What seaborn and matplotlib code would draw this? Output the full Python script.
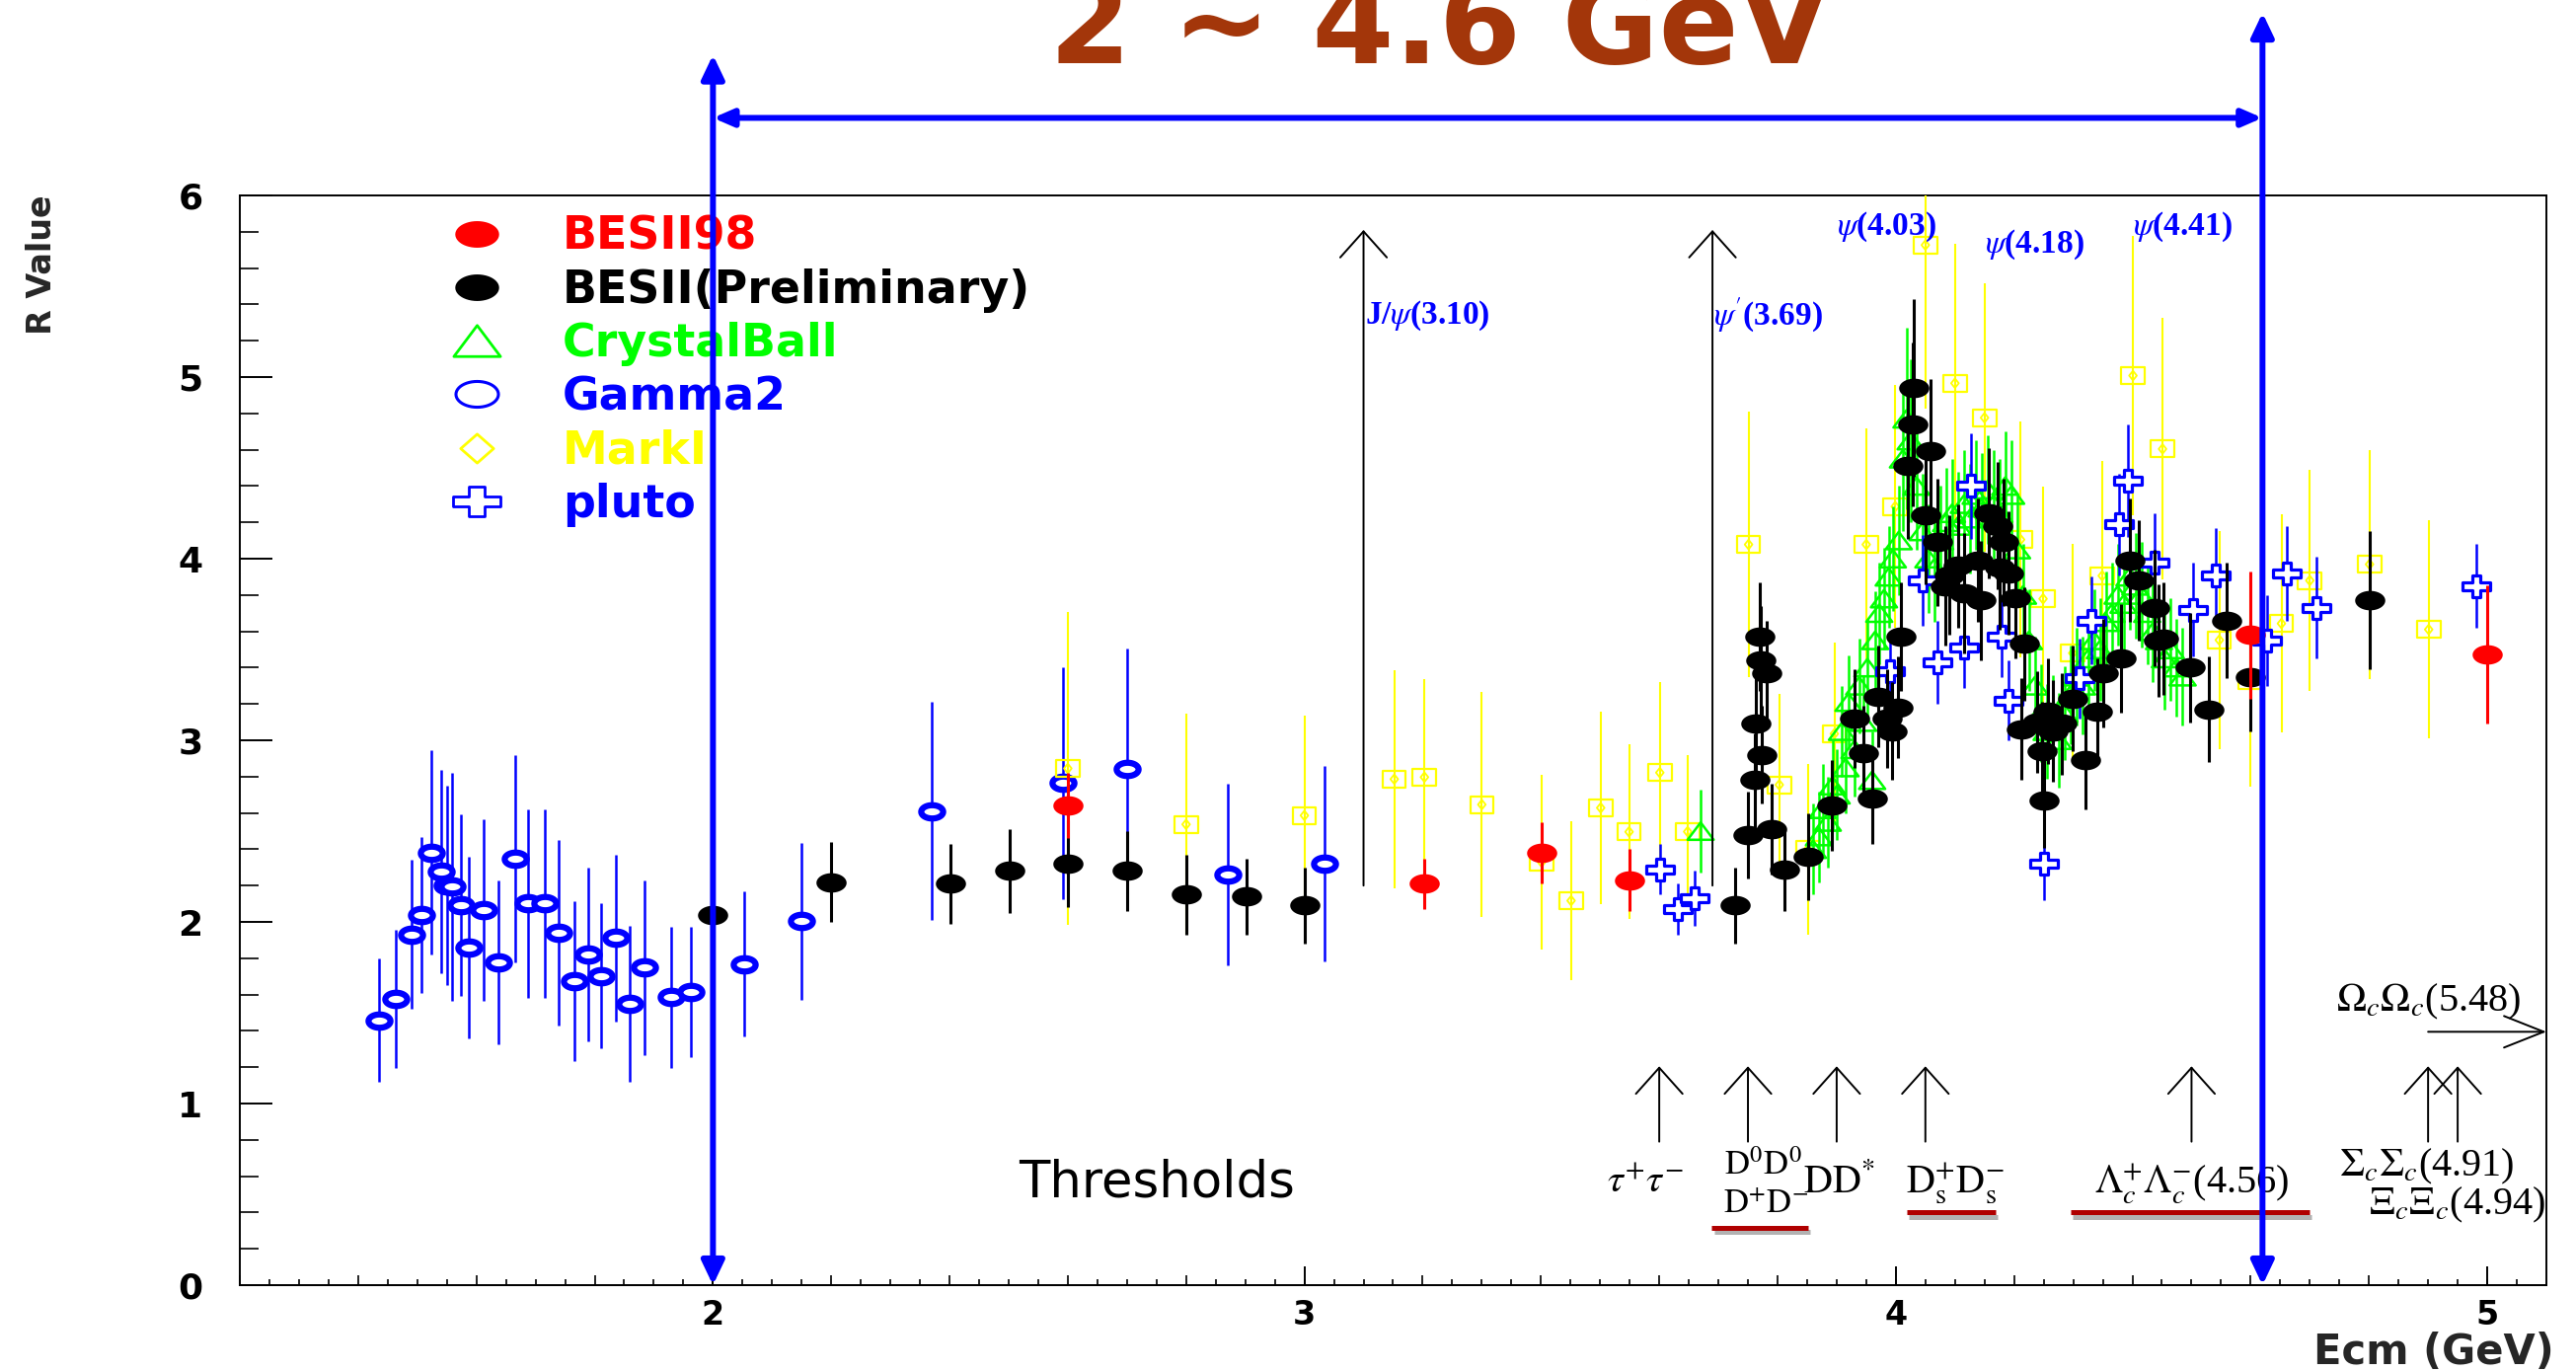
import numpy as np
import pandas as pd
import matplotlib
matplotlib.use("Agg")
import matplotlib.pyplot as plt
import seaborn as sns
from matplotlib.path import Path
from matplotlib.lines import Line2D
from matplotlib.patches import ArrowStyle
from matplotlib.ticker import MultipleLocator
import matplotlib.patheffects as pe

# ---------------- data ----------------
besii98_x = [2.600, 3.203, 3.401, 3.549, 4.599, 5.000]
besii98_y = [2.64, 2.21, 2.38, 2.23, 3.58, 3.475]
besii98_err = [0.18, 0.14, 0.17, 0.17, 0.35, 0.38]

besii_x = [2.000, 2.200, 2.401, 2.502, 2.600, 2.701, 2.800, 2.902, 3.001,
           3.729, 3.750, 3.762, 3.763, 3.770, 3.772, 3.774, 3.781, 3.790, 3.811,
           3.852, 3.891, 3.930, 3.946, 3.960, 3.971, 3.986, 3.993, 4.004, 4.009,
           4.020, 4.028, 4.030, 4.051, 4.059, 4.070, 4.083, 4.090, 4.105, 4.116,
           4.139, 4.143, 4.157, 4.172, 4.176, 4.183, 4.190, 4.202, 4.213, 4.217,
           4.239, 4.247, 4.251, 4.258, 4.265, 4.281, 4.299, 4.321, 4.340, 4.351,
           4.381, 4.396, 4.410, 4.437, 4.444, 4.452, 4.497, 4.530, 4.559, 4.600,
           4.801]
besii_y = [2.04, 2.22, 2.21, 2.28, 2.32, 2.28, 2.15, 2.14, 2.09,
           2.09, 2.48, 2.78, 3.09, 3.57, 3.44, 2.92, 3.37, 2.51, 2.29,
           2.36, 2.64, 3.12, 2.93, 2.68, 3.24, 3.12, 3.05, 3.18, 3.57,
           4.51, 4.74, 4.94, 4.24, 4.59, 4.09, 3.85, 3.91, 3.96, 3.81,
           3.99, 3.77, 4.25, 4.18, 3.95, 4.09, 3.92, 3.78, 3.06, 3.53,
           3.10, 2.94, 2.67, 3.16, 3.05, 3.09, 3.23, 2.89, 3.16, 3.37,
           3.45, 3.99, 3.88, 3.73, 3.55, 3.56, 3.40, 3.17, 3.66, 3.35,
           3.77]
besii_err = [0.20, 0.22, 0.22, 0.23, 0.24, 0.22, 0.22, 0.21, 0.21,
             0.21, 0.24, 0.26, 0.28, 0.30, 0.30, 0.27, 0.29, 0.25, 0.23,
             0.24, 0.25, 0.27, 0.26, 0.25, 0.28, 0.27, 0.27, 0.28, 0.30,
             0.40, 0.45, 0.49, 0.38, 0.40, 0.35, 0.33, 0.33, 0.34, 0.33,
             0.34, 0.33, 0.36, 0.35, 0.34, 0.35, 0.34, 0.33, 0.28, 0.31,
             0.28, 0.27, 0.26, 0.29, 0.28, 0.28, 0.29, 0.27, 0.29, 0.30,
             0.30, 0.34, 0.33, 0.32, 0.31, 0.31, 0.30, 0.29, 0.32, 0.30,
             0.38]

crystal_x = [3.670, 3.860, 3.870, 3.876, 3.885, 3.893, 3.900, 3.909, 3.915, 3.920,
             3.930, 3.938, 3.945, 3.952, 3.960, 3.965, 3.972, 3.980, 3.988, 3.995,
             4.005, 4.012, 4.018, 4.025, 4.035, 4.045, 4.055, 4.065, 4.075, 4.085,
             4.095, 4.105, 4.115, 4.125, 4.135, 4.145, 4.155, 4.165, 4.175, 4.185,
             4.195, 4.205, 4.215, 4.225, 4.235, 4.245, 4.255, 4.265, 4.275, 4.285,
             4.295, 4.305, 4.315, 4.325, 4.335, 4.345, 4.355, 4.365, 4.375, 4.385,
             4.395, 4.405, 4.415, 4.425, 4.435, 4.445, 4.455, 4.465, 4.475, 4.485]
crystal_y = [2.50, 2.40, 2.47, 2.62, 2.55, 2.75, 2.70, 3.05, 2.85, 3.21,
             2.95, 3.30, 3.10, 3.40, 2.78, 3.55, 3.70, 3.78, 3.90, 4.00,
             4.10, 4.55, 4.77, 4.65, 4.40, 4.15, 4.00, 3.95, 4.10, 4.20,
             4.25, 4.18, 4.30, 4.22, 4.35, 4.28, 4.38, 4.30, 4.25, 4.40,
             4.35, 4.05, 3.80, 3.55, 3.30, 3.15, 3.05, 3.10, 3.00, 3.15,
             3.25, 3.35, 3.30, 3.45, 3.55, 3.50, 3.65, 3.70, 3.80, 3.75,
             3.90, 3.85, 3.80, 3.70, 3.60, 3.55, 3.45, 3.50, 3.40, 3.35]
crystal_err = [0.23, 0.25, 0.25, 0.25, 0.25, 0.25, 0.25, 0.25, 0.25, 0.26,
               0.26, 0.26, 0.26, 0.27, 0.27, 0.27, 0.28, 0.28, 0.28, 0.29,
               0.30, 0.40, 0.50, 0.45, 0.35, 0.32, 0.30, 0.30, 0.30, 0.30,
               0.30, 0.30, 0.30, 0.30, 0.30, 0.30, 0.30, 0.30, 0.30, 0.30,
               0.30, 0.30, 0.28, 0.28, 0.27, 0.27, 0.26, 0.26, 0.26, 0.26,
               0.27, 0.27, 0.27, 0.27, 0.28, 0.28, 0.28, 0.28, 0.28, 0.28,
               0.29, 0.29, 0.29, 0.28, 0.28, 0.28, 0.28, 0.28, 0.27, 0.27]

gamma2_x = [1.436, 1.464, 1.491, 1.507, 1.524, 1.540, 1.550, 1.559, 1.573, 1.587,
            1.612, 1.637, 1.665, 1.687, 1.715, 1.739, 1.765, 1.789, 1.811, 1.835,
            1.859, 1.885, 1.930, 1.963, 2.052, 2.150, 2.370, 2.591, 2.701, 2.870,
            3.034]
gamma2_y = [1.459, 1.576, 1.930, 2.039, 2.383, 2.275, 2.202, 2.193, 2.093, 1.858,
            2.066, 1.776, 2.347, 2.102, 2.102, 1.939, 1.676, 1.821, 1.703, 1.912,
            1.549, 1.749, 1.585, 1.613, 1.767, 2.003, 2.610, 2.764, 2.845, 2.260,
            2.320]
gamma2_err = [0.34, 0.38, 0.41, 0.43, 0.56, 0.56, 0.55, 0.63, 0.50, 0.50,
              0.50, 0.45, 0.57, 0.52, 0.52, 0.51, 0.44, 0.48, 0.40, 0.46,
              0.43, 0.48, 0.39, 0.36, 0.40, 0.43, 0.60, 0.64, 0.66, 0.50,
              0.54]

markI_x = [2.600, 2.800, 3.000, 3.152, 3.203, 3.300, 3.401, 3.451, 3.501, 3.549,
           3.601, 3.648, 3.751, 3.803, 3.851, 3.896, 3.950, 3.999, 4.050, 4.100,
           4.150, 4.211, 4.249, 4.299, 4.349, 4.401, 4.451, 4.547, 4.599, 4.652,
           4.700, 4.801, 4.901]
markI_y = [2.845, 2.537, 2.586, 2.786, 2.797, 2.646, 2.329, 2.117, 2.628, 2.496,
           2.822, 2.497, 4.078, 2.755, 2.401, 3.036, 4.078, 4.287, 5.727, 4.966,
           4.776, 4.105, 3.779, 3.480, 3.906, 5.008, 4.604, 3.552, 3.326, 3.643,
           3.880, 3.969, 3.610]
markI_err = [0.86, 0.61, 0.55, 0.60, 0.54, 0.62, 0.48, 0.44, 0.53, 0.48,
             0.50, 0.42, 0.73, 0.50, 0.47, 0.50, 0.64, 0.67, 0.90, 0.77,
             0.74, 0.65, 0.62, 0.60, 0.63, 0.77, 0.72, 0.60, 0.58, 0.60,
             0.61, 0.63, 0.60]

pluto_x = [3.601, 3.632, 3.660, 3.990, 4.046, 4.071, 4.116, 4.127, 4.179, 4.191,
           4.250, 4.310, 4.330, 4.378, 4.392, 4.438, 4.502, 4.541, 4.627, 4.661,
           4.712, 4.981]
pluto_y = [2.29, 2.07, 2.13, 3.38, 3.88, 3.43, 3.51, 4.40, 3.57, 3.22,
           2.32, 3.34, 3.66, 4.19, 4.43, 3.98, 3.72, 3.91, 3.55, 3.92,
           3.73, 3.85]
pluto_err = [0.14, 0.14, 0.15, 0.20, 0.25, 0.23, 0.22, 0.29, 0.22, 0.22,
             0.20, 0.22, 0.24, 0.28, 0.31, 0.27, 0.26, 0.26, 0.25, 0.26,
             0.28, 0.23]

series_names = ["BESII98", "BESII(Preliminary)", "CrystalBall", "Gamma2", "MarkI", "pluto"]

# energy window of interest
window_lo, window_hi = 2.0, 4.62
title_text = "2 ~ 4.6 GeV"

# resonances (long arrows)
res_x = [3.10, 3.69]
res_labels = [r"J/$\psi$(3.10)", r"$\psi'$(3.69)"]
psi_label_x = [3.90, 4.15, 4.40]
psi_label_y = [5.83, 5.73, 5.83]
psi_labels = [r"$\psi$(4.03)", r"$\psi$(4.18)", r"$\psi$(4.41)"]

# thresholds (short arrows)
thr_x = [3.60, 3.75, 3.90, 4.05, 4.50, 4.90, 4.95]
thr_text = [r"$\tau^{+}\tau^{-}$", r"$\mathrm{D^{0}D^{0}}$", r"$\mathrm{D^{+}D^{-}}$",
            r"$\mathrm{DD^{*}}$", r"$\mathrm{D^{+}_{s}D^{-}_{s}}$",
            r"$\Lambda^{+}_{c}\Lambda^{-}_{c}$(4.56)", r"$\Sigma_{c}\Sigma_{c}$(4.91)",
            r"$\Xi_{c}\Xi_{c}$(4.94)", r"$\Omega_{c}\Omega_{c}$(5.48)"]
thr_text_x = [3.576, 3.776, 3.780, 3.905, 4.100, 4.500, 4.750, 4.800, 4.745]
thr_text_y = [0.56, 0.655, 0.445, 0.56, 0.56, 0.56, 0.65, 0.44, 1.56]
thr_text_size = [29, 25, 25, 29, 29, 29, 29, 29, 29]
thr_text_ha = ["center", "center", "center", "center", "center", "center", "left", "left", "left"]
underline_x0 = [3.689, 4.019, 4.295]
underline_x1 = [3.852, 4.169, 4.699]
underline_y = [0.317, 0.40, 0.40]

# ---------------- style ----------------
sns.set_theme(style="white")
plt.rcParams["font.family"] = ["DejaVu Sans"]
plt.rcParams["mathtext.fontset"] = "stix"

RED, BLACK, GREEN, BLUE, YELLOW = "#FF0000", "#000000", "#00FF00", "#0000FF", "#FFFF00"
ARROW_BLUE = "#0000FF"
SERIF = ["Liberation Serif", "DejaVu Serif"]


def ellipse_path(rx):
    t = np.linspace(0, 2 * np.pi, 49)
    return Path(np.column_stack([rx * np.cos(t), np.sin(t)]), closed=True)


def cross_path(sx, a=0.32):
    v = [(-1, -a), (-a, -a), (-a, -1), (a, -1), (a, -a), (1, -a), (1, a), (a, a),
         (a, 1), (-a, 1), (-a, a), (-1, a), (-1, -a)]
    return Path([(sx * u, w) for u, w in v], closed=True)


ELLIPSE = ellipse_path(1.55)
RING = ellipse_path(1.65)
TRI = Path([(-1.5, -1), (1.5, -1), (0, 1), (-1.5, -1)], closed=True)
CROSS = cross_path(1.25)
SQUARE = Path([(-1.4, -1), (1.4, -1), (1.4, 1), (-1.4, 1), (-1.4, -1)], closed=True)
INNER_DIAM = Path([(-0.8, 0), (0, 1), (0.8, 0), (0, -1), (-0.8, 0)], closed=True)
LEG_ELLIPSE = ellipse_path(1.65)
LEG_DIAM = Path([(-1.14, 0), (0, 1), (1.14, 0), (0, -1), (-1.14, 0)], closed=True)
LEG_CROSS = cross_path(1.57)

fig = plt.figure(figsize=(26.1, 13.9), dpi=100)
fig.patch.set_facecolor("white")
ax = fig.add_axes([0.0931, 0.06331, 0.8954, 0.79424])
ax.set_facecolor("white")


def draw_series(xs, ys, es, color, marker, size, face, lw, elw, z):
    df = pd.DataFrame({"x": xs, "y": ys, "e": es})
    ax.errorbar(df["x"], df["y"], yerr=df["e"], fmt="none", ecolor=color,
                elinewidth=elw, capsize=0, zorder=z)
    sns.scatterplot(data=df, x="x", y="y", ax=ax, marker=marker, s=size ** 2,
                    color=color, facecolor=face, edgecolor=color, linewidth=lw,
                    zorder=z + 0.5, legend=False)
    return df


draw_series(gamma2_x, gamma2_y, gamma2_err, BLUE, RING, 16, "white", 4.5, 1.8, 2)
dfm = draw_series(markI_x, markI_y, markI_err, YELLOW, SQUARE, 17, "none", 1.6, 1.5, 3)
sns.scatterplot(data=dfm, x="x", y="y", ax=ax, marker=INNER_DIAM, s=7 ** 2, color=YELLOW,
                facecolor="none", edgecolor=YELLOW, linewidth=1.3, zorder=3.6, legend=False)
draw_series(crystal_x, crystal_y, crystal_err, GREEN, TRI, 19, "none", 1.8, 1.8, 4)
draw_series(pluto_x, pluto_y, pluto_err, BLUE, CROSS, 20, "white", 2.3, 1.8, 5)
draw_series(besii_x, besii_y, besii_err, BLACK, ELLIPSE, 22, BLACK, 0, 2.2, 6)
draw_series(besii98_x, besii98_y, besii98_err, RED, ELLIPSE, 22, RED, 0, 2.2, 7)

# ---------------- axes ----------------
ax.set_xlim(1.2, 5.1)
ax.set_ylim(0, 6)
for s in ax.spines.values():
    s.set_color("black")
    s.set_linewidth(1.4)
    s.set_visible(True)
ax.grid(False)

ax.set_xticks([2, 3, 4, 5], labels=["2", "3", "4", "5"], fontweight="bold", fontsize=24)
ax.xaxis.set_minor_locator(MultipleLocator(0.2))
ax.set_yticks([0, 1, 2, 3, 4, 5, 6], labels=["0", "1", "2", "3", "4", "5", "6"],
              fontweight="bold", fontsize=26)
ax.yaxis.set_minor_locator(MultipleLocator(0.2))
ax.tick_params(axis="x", which="major", direction="in", length=13.7, width=1.4, pad=10,
               colors="black", bottom=True, top=False)
ax.tick_params(axis="x", which="minor", direction="in", length=7.2, width=1.4,
               bottom=True, top=False)
ax.tick_params(axis="y", which="major", direction="in", length=24, width=1.4, pad=27,
               colors="black", left=True, right=False)
ax.tick_params(axis="y", which="minor", direction="in", length=13.7, width=1.4,
               left=True, right=False)
sec = ax.secondary_xaxis("bottom")
sec.set_xticks(np.round(np.arange(1.25, 5.1, 0.05), 2))
sec.tick_params(direction="in", length=4.3, width=1.2, labelbottom=False, colors="black")
sec.spines["bottom"].set_linewidth(1.4)

ax.set_xlabel("Ecm (GeV)", fontsize=30, fontweight="bold", ha="right", va="baseline")
ax.xaxis.set_label_coords(1.0034, -0.0725)
ax.set_ylabel("R Value", fontsize=24, fontweight="bold", ha="center", va="center")
ax.yaxis.set_label_coords(-0.086, 0.9366)

# ---------------- legend ----------------
handles = [
    Line2D([], [], ls="none", marker=LEG_ELLIPSE, ms=32, mfc=RED, mec=RED, mew=0),
    Line2D([], [], ls="none", marker=LEG_ELLIPSE, ms=32, mfc=BLACK, mec=BLACK, mew=0),
    Line2D([], [], ls="none", marker=TRI, ms=34, mfc="none", mec=GREEN, mew=2.0),
    Line2D([], [], ls="none", marker=LEG_ELLIPSE, ms=31, mfc="none", mec=BLUE, mew=2.2),
    Line2D([], [], ls="none", marker=LEG_DIAM, ms=24, mfc="none", mec=YELLOW, mew=2.0),
    Line2D([], [], ls="none", marker=LEG_CROSS, ms=34, mfc="none", mec=BLUE, mew=2.0),
]
ax.legend(handles, series_names, loc="upper left", bbox_to_anchor=(0.0908, 0.982),
          frameon=False, borderpad=0, borderaxespad=0, handlelength=1.2,
          handletextpad=1.30, labelspacing=0.2,
          prop={"weight": "bold", "size": 33},
          labelcolor=[RED, BLACK, GREEN, BLUE, YELLOW, BLUE])

# ---------------- resonance arrows ----------------
open_head = ArrowStyle("->", head_length=19, head_width=17)
for rx in res_x:
    ax.annotate("", xy=(rx, 5.81), xytext=(rx, 2.2),
                arrowprops=dict(arrowstyle=open_head, color="black", lw=1.4,
                                shrinkA=0, shrinkB=0, mutation_scale=1), zorder=8)
for rx, lab in zip(res_x, res_labels):
    ax.text(rx + 0.002, 5.34, lab, color=BLUE, fontsize=24, fontweight="bold",
            family=SERIF, ha="left", va="center", zorder=8)
for lx, ly, lab in zip(psi_label_x, psi_label_y, psi_labels):
    ax.text(lx, ly, lab, color=BLUE, fontsize=24, fontweight="bold",
            family=SERIF, ha="left", va="center", zorder=8)

# ---------------- thresholds ----------------
thr_head = ArrowStyle("->", head_length=19, head_width=17)
for tx in thr_x:
    ax.annotate("", xy=(tx, 1.205), xytext=(tx, 0.79),
                arrowprops=dict(arrowstyle=thr_head, color="black", lw=1.4,
                                shrinkA=0, shrinkB=0, mutation_scale=1), zorder=8)
ax.annotate("", xy=(5.10, 1.395), xytext=(4.90, 1.395),
            arrowprops=dict(arrowstyle=ArrowStyle("->", head_length=29, head_width=11.5),
                            color="black", lw=1.4, shrinkA=0, shrinkB=0, mutation_scale=1),
            annotation_clip=False, zorder=8)
for tx, ty, tt, fs, ha in zip(thr_text_x, thr_text_y, thr_text, thr_text_size, thr_text_ha):
    ax.text(tx, ty, tt, fontsize=fs, family=SERIF,
            ha=ha, va="center", color="black", zorder=8, clip_on=False)
ax.text(2.75, 0.56, "Thresholds", fontsize=37, ha="center", va="center", color="black",
        zorder=8)
for x0, x1, uy in zip(underline_x0, underline_x1, underline_y):
    ax.plot([x0, x1], [uy, uy], color="#B00000", lw=3.6, solid_capstyle="butt", zorder=8,
            path_effects=[pe.SimpleLineShadow(offset=(1.5, -3), shadow_color="#808080",
                                              alpha=0.6), pe.Normal()])

# ---------------- blue window arrows ----------------
vhead = ArrowStyle("<|-|>", head_length=14.5, head_width=6.9)
hhead = ArrowStyle("<|-|>", head_length=12, head_width=5.2)
ax.annotate("", xy=(window_lo, 0), xytext=(window_lo, 6.774),
            arrowprops=dict(arrowstyle=vhead, color=ARROW_BLUE, lw=4.3, shrinkA=0, shrinkB=0,
                            mutation_scale=1), annotation_clip=False, zorder=20)
ax.annotate("", xy=(window_hi, 0), xytext=(window_hi, 7.005),
            arrowprops=dict(arrowstyle=vhead, color=ARROW_BLUE, lw=4.3, shrinkA=0, shrinkB=0,
                            mutation_scale=1), annotation_clip=False, zorder=20)
ax.annotate("", xy=(window_hi, 6.427), xytext=(window_lo, 6.427),
            arrowprops=dict(arrowstyle=hhead, color=ARROW_BLUE, lw=4.3, shrinkA=0, shrinkB=0,
                            mutation_scale=1), annotation_clip=False, zorder=20)

fig.text(0.5587, 1 - 64 / 1390, title_text, ha="center", va="baseline", fontsize=86,
         fontweight="bold", color="#A3360A")

fig.savefig("out.png", dpi=100, facecolor="white")
